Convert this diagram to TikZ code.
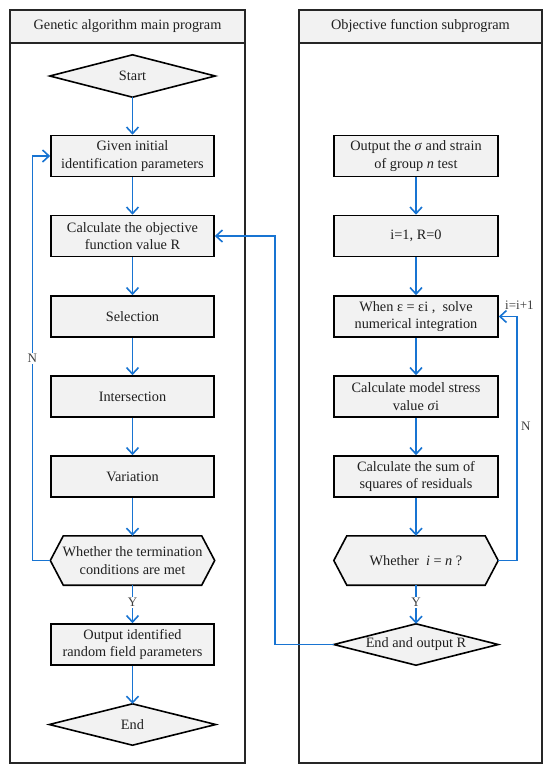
\documentclass[tikz,border=0pt]{standalone}
\usepackage{fontspec}
\setmainfont{Liberation Serif}
\usetikzlibrary{arrows.meta,calc}
\definecolor{ablue}{RGB}{24,116,210}
\definecolor{boxfill}{RGB}{242,242,242}
\pgfdeclarelayer{bg}
\pgfsetlayers{bg,main}
\begin{document}
\begin{tikzpicture}[x=1pt,y=-1pt,
  txt/.style={font=\fontsize{14.3}{17.5}\selectfont, text=black!88},
  box/.style={txt, draw=black, line width=1.6pt, fill=boxfill, minimum width=163pt, minimum height=41pt, inner sep=0pt, align=center},
  shapenode/.style={txt, minimum width=164pt, minimum height=49pt, inner sep=0pt, align=center},
  shapedraw/.style={draw=black, line width=1.6pt, fill=boxfill, line join=miter},
  ln/.style={draw=ablue, line width=1.6pt},
  arr/.style={ln, -{Straight Barb[length=6.5pt,width=12pt]}},
  panel/.style={draw=black!85, line width=1.8pt},
  lbl/.style={font=\fontsize{13}{15}\selectfont, text=black!75, inner sep=1pt}
]
\useasboundingbox (0,0) rectangle (550,772);
% panels
\fill[boxfill] (10,10) rectangle (245,43);
\fill[boxfill] (299,10) rectangle (542,43);
\draw[panel] (10,10) rectangle (245,763);
\draw[panel] (10,43) -- (245,43);
\draw[panel] (299,10) rectangle (542,763);
\draw[panel] (299,43) -- (542,43);
\node[txt] (h1) at (127.5,26.5) {Genetic algorithm main program};
\node[txt] (h2) at (420.5,26.5) {Objective function subprogram};

% left column
\node[shapenode, minimum width=165pt, minimum height=42pt] (start) at (132.5,76) {Start};
\node[box] (given) at (132.5,156) {Given initial\\identification parameters};
\node[box] (calc) at (132.5,236) {Calculate the objective\\function value R};
\node[box] (sel) at (132.5,316.5) {Selection};
\node[box] (inter) at (132.5,396.5) {Intersection};
\node[box] (var) at (132.5,476.5) {Variation};
\node[shapenode] (term) at (132.5,560.5) {Whether the termination\\conditions are met};
\node[box] (out) at (132.5,644.5) {Output identified\\random field parameters};
\node[shapenode, minimum width=166pt, minimum height=41pt] (endn) at (132.5,724.5) {End};

% right column
\node[box, minimum width=164pt] (outs) at (416,156) {Output the \textit{σ} and strain\\of group \textit{n} test};
\node[box, minimum width=164pt] (init) at (416,236) {i=1, R=0};
\node[box, minimum width=164pt] (when) at (416,316.5) {When ε = εi ,\ \ solve\\numerical integration};
\node[box, minimum width=164pt] (model) at (416,396.5) {Calculate model stress\\value \textit{σ}i};
\node[box, minimum width=164pt] (sum) at (416,476.5) {Calculate the sum of\\squares of residuals};
\node[shapenode] (hex2) at (416,560.5) {Whether\ \ \textit{i} = \textit{n} ?};
\node[shapenode, minimum width=164pt, minimum height=41pt] (endR) at (416,644.5) {End and output R};

\begin{pgfonlayer}{bg}
\foreach \h in {term,hex2}{
  \draw[shapedraw] (\h.west) -- ($(\h.north west)+(13,0)$) -- ($(\h.north east)+(-13,0)$) -- (\h.east)
    -- ($(\h.south east)+(-13,0)$) -- ($(\h.south west)+(13,0)$) -- cycle;
}
\foreach \d in {start,endn,endR}{
  \draw[shapedraw] (\d.west) -- (\d.north) -- (\d.east) -- (\d.south) -- cycle;
}
\end{pgfonlayer}

% left connectors
\draw[arr] (start.south) -- (given.north);
\draw[arr] (given.south) -- (calc.north);
\draw[arr] (calc.south) -- (sel.north);
\draw[arr] (sel.south) -- (inter.north);
\draw[arr] (inter.south) -- (var.north);
\draw[arr] (var.south) -- (term.north);
\draw[arr] (term.south) -- node[lbl, fill=white, pos=0.45] {Y} (out.north);
\draw[arr] (out.south) -- (endn.north);
\draw[arr] (term.west) -- ++(-18,0) coordinate (nl) |- node[lbl, fill=white, pos=0.25] {N} (given.west);

% right connectors
\draw[arr] (outs.south) -- (init.north);
\draw[arr] (init.south) -- (when.north);
\draw[arr] (when.south) -- (model.north);
\draw[arr] (model.south) -- (sum.north);
\draw[arr] (sum.south) -- (hex2.north);
\draw[arr] (hex2.south) -- node[lbl, fill=white, pos=0.45] {Y} (endR.north);
\draw[arr] (hex2.east) -- ++(19,0) coordinate (nr) |- node[lbl, pos=0.275, right=2pt] {N} (when.east);
\node[lbl, anchor=south west] (inc) at (504,311) {i=i+1};

% return
\draw[arr] (endR.west) -- (275,644.5) coordinate (rr) |- (calc.east);
\end{tikzpicture}
\end{document}
